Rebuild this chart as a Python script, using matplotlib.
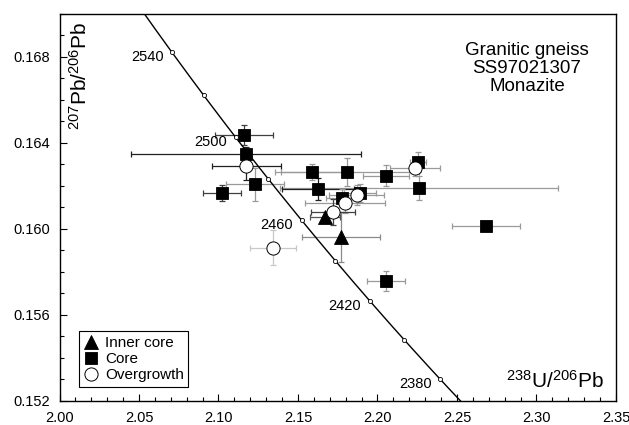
import numpy as np
import matplotlib
matplotlib.use("Agg")
import matplotlib.pyplot as plt
from matplotlib.ticker import MultipleLocator

plt.rcParams['font.family'] = ['Liberation Sans', 'DejaVu Sans']
plt.rcParams['mathtext.fontset'] = 'custom'
plt.rcParams['mathtext.rm'] = 'Liberation Sans'
plt.rcParams['mathtext.it'] = 'Liberation Sans'

# --- data ----------------------------------------------------------------
# Inner core (triangles)
inner_x = [2.1771, 2.1670]
inner_y = [0.15964, 0.16057]
inner_xerr = [0.0245, 0.0094]
inner_yerr = [0.00116, 0.00023]

# Core (squares)
core_x = [2.1160, 2.1175, 2.1230, 2.1020, 2.1590, 2.1808, 2.2056,
          2.2257, 2.2263, 2.1626, 2.1775, 2.1890, 2.2683, 2.2054]
core_y = [0.16437, 0.16347, 0.16208, 0.16169, 0.16265, 0.16265, 0.16247,
          0.16310, 0.16192, 0.16186, 0.16144, 0.16167, 0.16014, 0.15758]
core_xerr = [0.0182, 0.0723, 0.0182, 0.0120, 0.0200, 0.0450, 0.0145,
             0.0050, 0.0874, 0.0226, 0.0100, 0.0100, 0.0214, 0.0121]
core_yerr = [0.00047, 0.00033, 0.00077, 0.00037, 0.00037, 0.00065, 0.00049,
             0.00047, 0.00056, 0.00051, 0.00040, 0.00040, 0.00014, 0.00045]

# Overgrowth (open circles)
over_x = [2.1176, 2.2236, 2.1869, 2.1796, 2.1722, 2.1341]
over_y = [0.16293, 0.16282, 0.16158, 0.16120, 0.16080, 0.15913]
over_xerr = [0.0214, 0.0157, 0.0173, 0.0250, 0.0138, 0.0145]
over_yerr = [0.00065, 0.00037, 0.00047, 0.00047, 0.00060, 0.00081]

# concordia age marks (Ma)
mark_ages = [2380, 2400, 2420, 2440, 2460, 2480, 2500, 2520, 2540]
label_ages = [2380, 2420, 2460, 2500, 2540]

# error bar tones (style only)
inner_tone = ['#8a8a8a', '#555555']
core_tone = ['#404040', '#202020', '#9a9a9a', '#404040', '#9a9a9a', '#9a9a9a',
             '#9a9a9a', '#9a9a9a', '#9a9a9a', '#202020', '#9a9a9a', '#9a9a9a',
             '#9a9a9a', '#9a9a9a']
over_tone = ['#202020', '#9a9a9a', '#9a9a9a', '#9a9a9a', '#404040', '#c8c8c8']

# Tera-Wasserburg concordia
L238 = 1.55125e-10
L235 = 9.8485e-10
U_RATIO = 137.88


def concordia(t_ma):
    t = np.asarray(t_ma, dtype=float) * 1e6
    e8 = np.exp(L238 * t) - 1.0
    e5 = np.exp(L235 * t) - 1.0
    return 1.0 / e8, e5 / e8 / U_RATIO


fig = plt.figure(figsize=(6.29, 4.25), dpi=100)
ax = fig.add_axes([0.0946, 0.0565, 0.8847, 0.9106])

# error bars first
for xs, ys, xe, ye, tones in [(core_x, core_y, core_xerr, core_yerr, core_tone),
                              (inner_x, inner_y, inner_xerr, inner_yerr, inner_tone),
                              (over_x, over_y, over_xerr, over_yerr, over_tone)]:
    for i in range(len(xs)):
        ax.errorbar(xs[i], ys[i], xerr=xe[i], yerr=ye[i], fmt='none',
                    ecolor=tones[i], elinewidth=0.9, capsize=2.2,
                    capthick=0.9, zorder=2)

ax.plot(core_x, core_y, 's', ms=8, mfc='black', mec='black', mew=0.6,
        ls='none', zorder=3, label='Core')
ax.plot(inner_x, inner_y, '^', ms=9.5, mfc='black', mec='black', mew=0.6,
        ls='none', zorder=4, label='Inner core')
ax.plot(over_x, over_y, 'o', ms=9.5, mfc='white', mec='black', mew=0.7,
        ls='none', zorder=5, label='Overgrowth')

# concordia curve
t_line = np.arange(2350, 2591, 1)
cx, cy = concordia(t_line)
ax.plot(cx, cy, color='black', lw=1.0, zorder=6)
mx, my = concordia(mark_ages)
ax.plot(mx, my, 'o', ms=3, mfc='white', mec='black', mew=0.6, ls='none', zorder=7)
lx, ly = concordia(label_ages)
for a, x, y in zip(label_ages, lx, ly):
    ax.annotate(str(a), (x, y), xytext=(-6, -3.5), textcoords='offset points',
                ha='right', va='center', fontsize=10.5, zorder=8)

ax.set_xlim(2.00, 2.35)
ax.set_ylim(0.152, 0.170)
ax.xaxis.set_major_locator(MultipleLocator(0.05))
ax.xaxis.set_minor_locator(MultipleLocator(0.01))
ax.yaxis.set_major_locator(MultipleLocator(0.004))
ax.yaxis.set_minor_locator(MultipleLocator(0.001))
ax.xaxis.set_major_formatter(plt.FormatStrFormatter('%.2f'))
ax.yaxis.set_major_formatter(plt.FormatStrFormatter('%.3f'))
ax.tick_params(which='both', direction='in', top=False, right=False,
               labelsize=10.5, pad=7)
ax.tick_params(which='major', length=5, width=0.8)
ax.tick_params(which='minor', length=3, width=0.8)
for s in ax.spines.values():
    s.set_linewidth(1.0)

ax.text(0.036, 0.84, r'$^{207}$Pb/$^{206}$Pb', transform=ax.transAxes,
        rotation=90, ha='center', va='center', fontsize=15)
ax.text(0.891, 0.034, r'$^{238}$U/$^{206}$Pb', transform=ax.transAxes,
        ha='center', va='baseline', fontsize=15)
ax.text(0.840, 0.858, 'Granitic gneiss\nSS97021307\nMonazite',
        transform=ax.transAxes, ha='center', va='center', fontsize=13.5,
        linespacing=1.08)

handles, labels = ax.get_legend_handles_labels()
order = [1, 0, 2]
leg = ax.legend([handles[i] for i in order], [labels[i] for i in order],
                loc='lower left', bbox_to_anchor=(0.035, 0.036),
                borderaxespad=0, fontsize=11, handlelength=1.0,
                handletextpad=0.4, labelspacing=0.15, borderpad=0.3,
                fancybox=False, framealpha=1, edgecolor='black')
leg.get_frame().set_linewidth(0.8)

fig.savefig('out.png', dpi=100)
